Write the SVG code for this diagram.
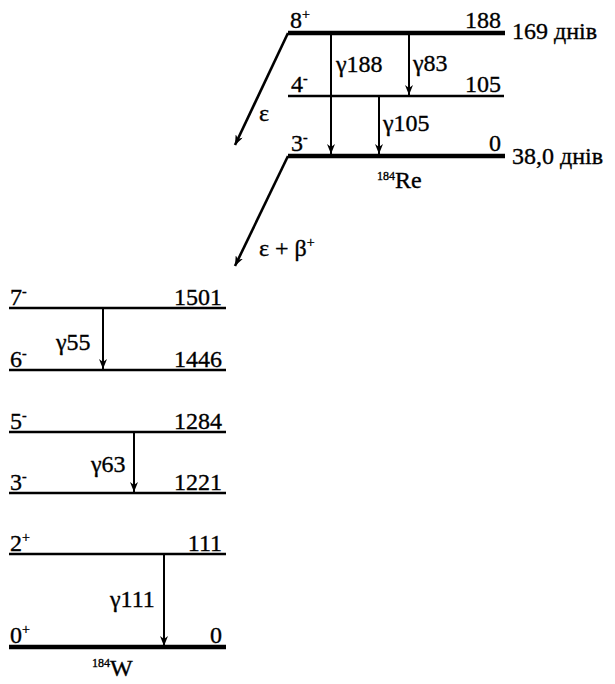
<svg xmlns="http://www.w3.org/2000/svg" width="615" height="684" viewBox="0 0 615 684">
<defs>
<marker id="ah" markerWidth="10" markerHeight="8" refX="10" refY="4" orient="auto" markerUnits="userSpaceOnUse" viewBox="0 0 10 8">
<path d="M0,0 L10,4 L0,8 L3,4 Z" fill="#000"/>
</marker>
<style>
text{font-family:"Times New Roman","Liberation Serif",serif;font-size:24px;fill:#000;stroke:#000;stroke-width:0.35}
.sup{font-size:14px}
.iso{font-size:12px}
.thick{stroke:#000;stroke-width:4.5;fill:none}
.thin{stroke:#000;stroke-width:2.6;fill:none}
.gam{stroke:#000;stroke-width:2;fill:none;marker-end:url(#ah)}
.dec{stroke:#000;stroke-width:2.6;fill:none;marker-end:url(#ah)}
.r{text-anchor:end}
</style>
</defs>
<g id="re-8plus">
<line class="thick" x1="288" y1="33" x2="505" y2="33"/>
<text x="290" y="28">8<tspan class="sup" dy="-9">+</tspan></text>
<text class="r" x="501" y="28">188</text>
<text x="512" y="39">169 днів</text>
</g>
<g id="re-4minus">
<line class="thin" x1="288" y1="96" x2="504" y2="96"/>
<text x="291" y="92">4<tspan class="sup" dy="-9">-</tspan></text>
<text class="r" x="501" y="92">105</text>
</g>
<g id="re-3minus">
<line class="thick" x1="288" y1="156" x2="505" y2="156"/>
<text x="291" y="151">3<tspan class="sup" dy="-9">-</tspan></text>
<text class="r" x="501" y="151">0</text>
<text x="512" y="164">38,0 днів</text>
<text x="377" y="188"><tspan class="iso" dy="-8">184</tspan><tspan dy="8">Re</tspan></text>
</g>
<g id="w-7minus">
<line class="thin" x1="9" y1="308" x2="226" y2="308"/>
<text x="10" y="305">7<tspan class="sup" dy="-9">-</tspan></text>
<text class="r" x="222" y="305">1501</text>
</g>
<g id="w-6minus">
<line class="thin" x1="9" y1="370" x2="226" y2="370"/>
<text x="10" y="367">6<tspan class="sup" dy="-9">-</tspan></text>
<text class="r" x="222" y="367">1446</text>
</g>
<g id="w-5minus">
<line class="thin" x1="9" y1="432" x2="226" y2="432"/>
<text x="10" y="429">5<tspan class="sup" dy="-9">-</tspan></text>
<text class="r" x="222" y="429">1284</text>
</g>
<g id="w-3minus">
<line class="thin" x1="9" y1="493" x2="226" y2="493"/>
<text x="10" y="490">3<tspan class="sup" dy="-9">-</tspan></text>
<text class="r" x="222" y="490">1221</text>
</g>
<g id="w-2plus">
<line class="thin" x1="9" y1="554" x2="226" y2="554"/>
<text x="10" y="551">2<tspan class="sup" dy="-9">+</tspan></text>
<text class="r" x="222" y="551">111</text>
</g>
<g id="w-0plus">
<line class="thick" x1="9" y1="647" x2="226" y2="647"/>
<text x="10" y="643">0<tspan class="sup" dy="-9">+</tspan></text>
<text class="r" x="222" y="643">0</text>
<text x="92" y="676"><tspan class="iso" dy="-9">184</tspan><tspan dy="9">W</tspan></text>
</g>
<g id="connectors">
<line class="gam" x1="331" y1="35" x2="331" y2="154"/>
<line class="gam" x1="409" y1="35" x2="409" y2="95"/>
<line class="gam" x1="379" y1="97" x2="379" y2="154"/>
<line class="gam" x1="103" y1="309" x2="103" y2="369"/>
<line class="gam" x1="134" y1="433" x2="134" y2="492"/>
<line class="gam" x1="164" y1="555" x2="164" y2="646"/>
<line class="dec" x1="288" y1="33" x2="235" y2="145"/>
<line class="dec" x1="288" y1="156" x2="235" y2="266"/>
<text x="336" y="72">γ188</text>
<text x="413" y="71">γ83</text>
<text x="383" y="131">γ105</text>
<text x="259" y="121">ε</text>
<text x="259" y="256">ε + β<tspan class="sup" dy="-9">+</tspan></text>
<text x="56" y="350">γ55</text>
<text x="91" y="472">γ63</text>
<text x="110" y="607">γ111</text>
</g>
</svg>
